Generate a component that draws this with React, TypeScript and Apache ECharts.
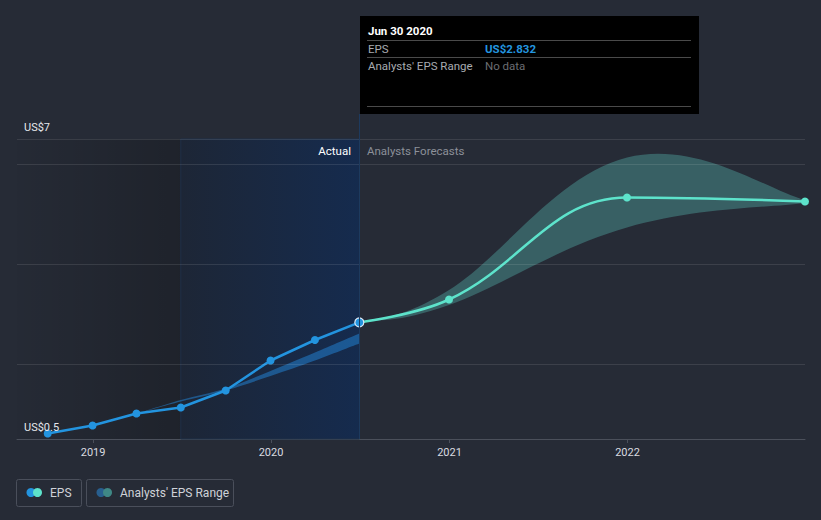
import React, { useEffect, useRef } from "react";
import * as echarts from "echarts";

const ts = (s: string) => new Date(s + "T00:00:00").getTime();

const axisMinDate = "2018-07-29";
const axisMaxDate = "2022-12-31";
const yearTicks = ["2019-01-01", "2020-01-01", "2021-01-01", "2022-01-01"];

const epsDates = ["2018-09-30", "2018-12-31", "2019-03-31", "2019-06-30", "2019-09-30", "2019-12-31", "2020-03-31", "2020-06-30"];
const epsValues = [0.61, 0.77, 1.01, 1.13, 1.47, 2.07, 2.48, 2.832];

const forecastDates = ["2020-06-30", "2020-12-31", "2021-12-31", "2022-12-31"];
const forecastValues = [2.832, 3.29, 5.33, 5.25];
const forecastLow = [2.832, 3.18, 4.73, 5.22];
const forecastHigh = [2.832, 3.48, 6.13, 5.28];

const pastEstDates = ["2019-03-31", "2019-06-30", "2019-09-30", "2019-12-31", "2020-03-31", "2020-06-30"];
const pastEstLow = [1.006, 1.25, 1.47, 1.76, 2.07, 2.41];
const pastEstHigh = [1.006, 1.28, 1.51, 1.86, 2.23, 2.61];

const gridValues = [2, 4, 6, 6.5];
const yMin = 0.5;
const yMax = 7;
const regionSplitDate = "2019-06-30";
const actualEndDate = "2020-06-30";

const FONT = "Roboto, 'Noto Sans', sans-serif";
const BG = "#262b36";

type P = number[];

function curveSegs(pts: P[], k: number): string {
  let s = "";
  for (let i = 0; i < pts.length - 1; i++) {
    const p0 = pts[i - 1] || pts[i];
    const p1 = pts[i];
    const p2 = pts[i + 1];
    const p3 = pts[i + 2] || p2;
    const c1 = [p1[0] + (p2[0] - p0[0]) * k, p1[1] + (p2[1] - p0[1]) * k];
    const c2 = [p2[0] - (p3[0] - p1[0]) * k, p2[1] - (p3[1] - p1[1]) * k];
    s += `C${c1[0]},${c1[1]} ${c2[0]},${c2[1]} ${p2[0]},${p2[1]}`;
  }
  return s;
}

function bandRenderer(dates: string[], lows: number[], highs: number[], fill: string, k: number) {
  return (_params: any, api: any) => {
    const up: P[] = dates.map((d, i) => api.coord([ts(d), highs[i]]));
    const lo: P[] = dates.map((d, i) => api.coord([ts(d), lows[i]])).reverse();
    const pathData =
      `M${up[0][0]},${up[0][1]}` + curveSegs(up, k) + `L${lo[0][0]},${lo[0][1]}` + curveSegs(lo, k) + "Z";
    return { type: "path", shape: { pathData }, style: { fill, stroke: "none" } };
  };
}

export default function App() {
  const ref = useRef<HTMLDivElement>(null);
  useEffect(() => {
    if (!ref.current) return;
    const chart = echarts.init(ref.current, undefined, { renderer: "svg" });
    const lastEps = epsValues[epsValues.length - 1];
    const hidden = { opacity: 0, width: 1 };
    const option: any = {
      animation: false,
      backgroundColor: BG,
      textStyle: { fontFamily: FONT },
      grid: { left: 17, right: 16, top: 114, bottom: 81 },
      xAxis: {
        type: "value",
        min: ts(axisMinDate),
        max: ts(axisMaxDate),
        axisLine: { show: true, onZero: false, lineStyle: { color: "#4b505b", width: 1 } },
        axisTick: { show: true, length: 4, lineStyle: { color: "#4b505b" }, customValues: yearTicks.map(ts) },
        axisLabel: {
          color: "#d9dbe0",
          fontSize: 11,
          fontFamily: FONT,
          margin: 8,
          customValues: yearTicks.map(ts),
          formatter: (v: number) => String(new Date(v).getFullYear()),
        },
        splitLine: { show: false },
      },
      yAxis: {
        type: "value",
        min: yMin,
        max: yMax,
        show: false,
        splitLine: { show: false },
      },
      series: [
        {
          name: "regions",
          type: "line",
          z: 0,
          silent: true,
          data: [[ts(axisMinDate), yMin]],
          showSymbol: false,
          lineStyle: hidden,
          markArea: {
            silent: true,
            data: [
              [
                {
                  xAxis: ts(axisMinDate),
                  yAxis: yMin,
                  itemStyle: {
                    color: new echarts.graphic.LinearGradient(0, 0, 1, 0, [
                      { offset: 0, color: "rgba(0,0,0,0.02)" },
                      { offset: 1, color: "rgba(0,0,0,0.2)" },
                    ]),
                  },
                },
                { xAxis: ts(regionSplitDate), yAxis: 6.5 },
              ],
              [
                {
                  xAxis: ts(regionSplitDate),
                  yAxis: yMin,
                  itemStyle: {
                    color: new echarts.graphic.LinearGradient(0, 0, 1, 0, [
                      { offset: 0, color: "#1d2636" },
                      { offset: 1, color: "#152b4e" },
                    ]),
                    borderColor: "#1f3048",
                    borderWidth: 1,
                  },
                },
                { xAxis: ts(actualEndDate), yAxis: 6.5 },
              ],
            ],
          },
        },
        {
          name: "gridlines",
          type: "line",
          z: 1,
          silent: true,
          data: [[ts(axisMinDate), yMin]],
          showSymbol: false,
          lineStyle: hidden,
          markLine: {
            silent: true,
            symbol: ["none", "none"],
            label: { show: false },
            lineStyle: { color: "rgba(255,255,255,0.1)", width: 1, type: "solid" },
            data: [
              ...gridValues.map((v) => ({ yAxis: v })),
              { xAxis: ts(actualEndDate), lineStyle: { color: "#1d3a5e", width: 1, type: "solid" } },
            ],
          },
        },
        {
          name: "pastRange",
          type: "custom",
          z: 2,
          silent: true,
          data: [[ts(pastEstDates[0]), pastEstLow[0]]],
          renderItem: bandRenderer(pastEstDates, pastEstLow, pastEstHigh, "rgba(35,140,225,0.48)", 0.18),
        },
        {
          name: "Analysts' EPS Range",
          type: "custom",
          z: 2,
          silent: true,
          data: [[ts(forecastDates[0]), forecastLow[0]]],
          renderItem: bandRenderer(forecastDates, forecastLow, forecastHigh, "rgba(80,170,165,0.42)", 0.2),
        },
        {
          name: "EPS forecast",
          type: "line",
          z: 3,
          smooth: 0.4,
          symbol: "circle",
          symbolSize: 8,
          lineStyle: { color: "#5de3cb", width: 2.5 },
          itemStyle: { color: "#5de3cb" },
          data: forecastDates.map((d, i) =>
            i === 0 ? { value: [ts(d), forecastValues[i]], symbol: "none" } : [ts(d), forecastValues[i]]
          ),
        },
        {
          name: "EPS",
          type: "line",
          z: 4,
          symbol: "circle",
          symbolSize: 8,
          lineStyle: { color: "#2394df", width: 2.5 },
          itemStyle: { color: "#2394df" },
          data: epsDates.map((d, i) =>
            i === epsDates.length - 1
              ? { value: [ts(d), epsValues[i]], symbolSize: 9, itemStyle: { color: "#2394df", borderColor: "#dbe9f7", borderWidth: 1.2 } }
              : [ts(d), epsValues[i]]
          ),
        },
      ],
      graphic: [
        { type: "text", z: 100, x: 24, y: 127, style: { text: "US$7", fill: "#e6e8ec", fontSize: 11, fontFamily: FONT, verticalAlign: "middle" } },
        { type: "text", z: 100, x: 24, y: 427, style: { text: "US$0.5", fill: "#e6e8ec", fontSize: 11, fontFamily: FONT, verticalAlign: "middle" } },
        { type: "text", z: 100, x: 351, y: 151, style: { text: "Actual", fill: "#ffffff", fontSize: 11.5, fontFamily: FONT, align: "right", verticalAlign: "middle" } },
        { type: "text", z: 100, x: 367, y: 151, style: { text: "Analysts Forecasts", fill: "#8c9099", fontSize: 11.5, fontFamily: FONT, verticalAlign: "middle" } },
        {
          type: "group",
          z: 100,
          children: [
            { type: "rect", shape: { x: 360, y: 16, width: 339, height: 98 }, style: { fill: "#000000" } },
            { type: "text", x: 368, y: 31, style: { text: "Jun 30 2020", fill: "#ffffff", fontSize: 11.5, fontWeight: "bold", fontFamily: FONT, verticalAlign: "middle" } },
            { type: "line", shape: { x1: 367, y1: 40.5, x2: 691, y2: 40.5 }, style: { stroke: "#4a4a4a", lineWidth: 1 } },
            { type: "text", x: 368, y: 48.5, style: { text: "EPS", fill: "#a8abb0", fontSize: 11.5, fontFamily: FONT, verticalAlign: "middle" } },
            { type: "text", x: 485, y: 48.5, style: { text: "US$" + lastEps.toFixed(3), fill: "#2394df", fontSize: 11.5, fontWeight: "bold", fontFamily: FONT, verticalAlign: "middle" } },
            { type: "line", shape: { x1: 367, y1: 57.5, x2: 691, y2: 57.5 }, style: { stroke: "#4a4a4a", lineWidth: 1 } },
            { type: "text", x: 368, y: 65.5, style: { text: "Analysts' EPS Range", fill: "#a8abb0", fontSize: 11.5, fontFamily: FONT, verticalAlign: "middle" } },
            { type: "text", x: 485, y: 65.5, style: { text: "No data", fill: "#6b6d72", fontSize: 11.5, fontFamily: FONT, verticalAlign: "middle" } },
            { type: "line", shape: { x1: 367, y1: 106.5, x2: 691, y2: 106.5 }, style: { stroke: "#4a4a4a", lineWidth: 1 } },
          ],
        },
        {
          type: "group",
          z: 100,
          children: [
            { type: "rect", shape: { x: 16.5, y: 479.5, width: 65, height: 27, r: 2 }, style: { fill: "none", stroke: "#4a4f5b", lineWidth: 1 } },
            { type: "circle", shape: { cx: 31, cy: 492.5, r: 4.5 }, style: { fill: "#2394df" } },
            { type: "circle", shape: { cx: 37.5, cy: 492.5, r: 4.5 }, style: { fill: "#5de3cb" } },
            { type: "text", x: 50, y: 493, style: { text: "EPS", fill: "#cfd2d8", fontSize: 12, fontFamily: FONT, verticalAlign: "middle" } },
            { type: "rect", shape: { x: 86.5, y: 479.5, width: 147, height: 27, r: 2 }, style: { fill: "none", stroke: "#4a4f5b", lineWidth: 1 } },
            { type: "circle", shape: { cx: 101, cy: 492.5, r: 4.5 }, style: { fill: "#285f8f" } },
            { type: "circle", shape: { cx: 107.5, cy: 492.5, r: 4.5 }, style: { fill: "#3f8886" } },
            { type: "text", x: 120, y: 493, style: { text: "Analysts' EPS Range", fill: "#cfd2d8", fontSize: 12, fontFamily: FONT, verticalAlign: "middle" } },
          ],
        },
      ],
    };
    chart.setOption(option);
    return () => chart.dispose();
  }, []);
  return (
    <div style={{ position: "fixed", left: 0, top: 0, width: 821, height: 520, background: BG }}>
      <div ref={ref} style={{ width: 821, height: 520 }} />
    </div>
  );
}
